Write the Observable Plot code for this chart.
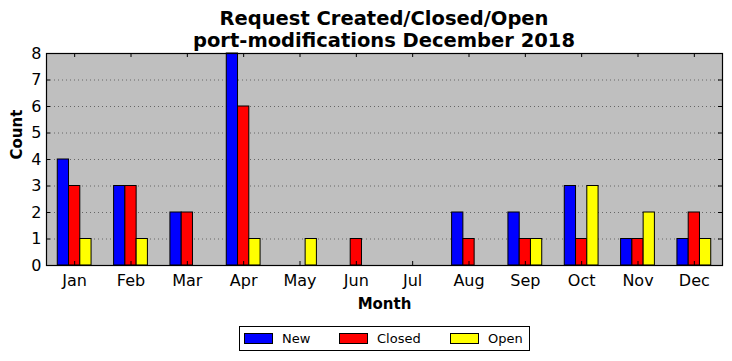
<!DOCTYPE html>
<html>
<head>
<meta charset="utf-8">
<script src="https://cdn.jsdelivr.net/npm/d3@7"></script>
<script src="https://cdn.jsdelivr.net/npm/@observablehq/plot@0.6"></script>
<style>
  body { margin: 0; background: #fff; font-family: "DejaVu Sans", sans-serif; }
  #wrap { width: 732px; }
  #title { height: 41px; text-align: center; font-weight: bold; font-size: 19.5px; line-height: 22px; padding-left: 36px; box-sizing: border-box; padding-top: 8px; white-space: nowrap; }
  #chart svg { display: block; font-family: "DejaVu Sans", sans-serif; }
  #legend { position: relative; margin-left: 239px; margin-top: 8px; width: 291px; height: 25px; border: 1px solid #000; box-sizing: border-box; font-size: 13px; }
  .item { position: absolute; top: 0; height: 23px; display: flex; align-items: center; }
  .sw { width: 27px; height: 9px; border: 1px solid #000; margin-right: 9px; }
</style>
</head>
<body>
<div id="wrap">
  <div id="title">Request Created/Closed/Open<br>port-modifications December 2018</div>
  <div id="chart"></div>
  <div id="legend"></div>
</div>
<script>
const months = ["Jan","Feb","Mar","Apr","May","Jun","Jul","Aug","Sep","Oct","Nov","Dec"];
const newVals    = [4, 3, 2, 8, 0, 0, 0, 2, 2, 3, 1, 1];
const closedVals = [3, 3, 2, 6, 0, 1, 0, 1, 1, 1, 1, 2];
const openVals   = [1, 1, 0, 1, 1, 0, 0, 0, 1, 3, 2, 1];
const seriesNames = ["New", "Closed", "Open"];
const seriesColors = ["#0000ff", "#ff0000", "#ffff00"];
const yTicks = [0, 1, 2, 3, 4, 5, 6, 7, 8];

const seriesVals = [newVals, closedVals, openVals];
const rows = [];
months.forEach((m, i) => {
  seriesVals.forEach((vals, s) => {
    const c = i + (s - 1) * 0.2;
    rows.push({ month: m, series: seriesNames[s], x1: c - 0.1, x2: c + 0.1, value: vals[i] });
  });
});

const idx = months.map((_, i) => i);
const innerH = 212, innerW = 676;

const chart = Plot.plot({
  width: 732,
  height: 277,
  marginLeft: 46,
  marginRight: 10,
  marginTop: 12,
  marginBottom: 53,
  style: { fontFamily: "DejaVu Sans, sans-serif", fontSize: "16px", color: "#000", background: "transparent" },
  x: { type: "linear", domain: [-0.5, 11.5], axis: null },
  y: { domain: [0, 8], axis: null },
  color: { domain: seriesNames, range: seriesColors },
  marks: [
    Plot.frame({ fill: "#bfbfbf", stroke: "none" }),
    Plot.gridY(yTicks.slice(1, -1), { stroke: "#666", strokeOpacity: 1, strokeWidth: 1, strokeDasharray: "1,3" }),
    Plot.rectY(rows, { x1: "x1", x2: "x2", y1: 0, y2: "value", fill: "series", stroke: "#000", strokeWidth: 1 }),
    Plot.tickX(idx, { x: d => d, insetTop: innerH - 4, stroke: "#000" }),
    Plot.tickX(idx, { x: d => d, insetBottom: innerH - 4, stroke: "#000" }),
    Plot.tickY(yTicks, { y: d => d, insetRight: innerW - 4, stroke: "#000" }),
    Plot.tickY(yTicks, { y: d => d, insetLeft: innerW - 4, stroke: "#000" }),
    Plot.axisX(idx, { tickSize: 0, tickPadding: 9, tickFormat: i => months[i], fontSize: 16, label: null }),
    Plot.axisY(yTicks, { tickSize: 0, tickPadding: 5, fontSize: 16, label: null }),
    Plot.text(["Month"], { frameAnchor: "bottom", dy: 43, fontWeight: "bold", fontSize: 15, fill: "#000" }),
    Plot.text(["Count"], { frameAnchor: "left", dx: -29, rotate: -90, fontWeight: "bold", fontSize: 15, fill: "#000" }),
    Plot.frame({ stroke: "#000", strokeWidth: 1.2 })
  ]
});
document.getElementById("chart").appendChild(chart);

const legend = document.getElementById("legend");
const lefts = [4, 99, 210];
seriesNames.forEach((n, s) => {
  const it = document.createElement("div");
  it.className = "item";
  it.style.left = lefts[s] + "px";
  it.innerHTML = `<div class="sw" style="background:${seriesColors[s]}"></div><span>${n}</span>`;
  legend.appendChild(it);
});
</script>
</body>
</html>
